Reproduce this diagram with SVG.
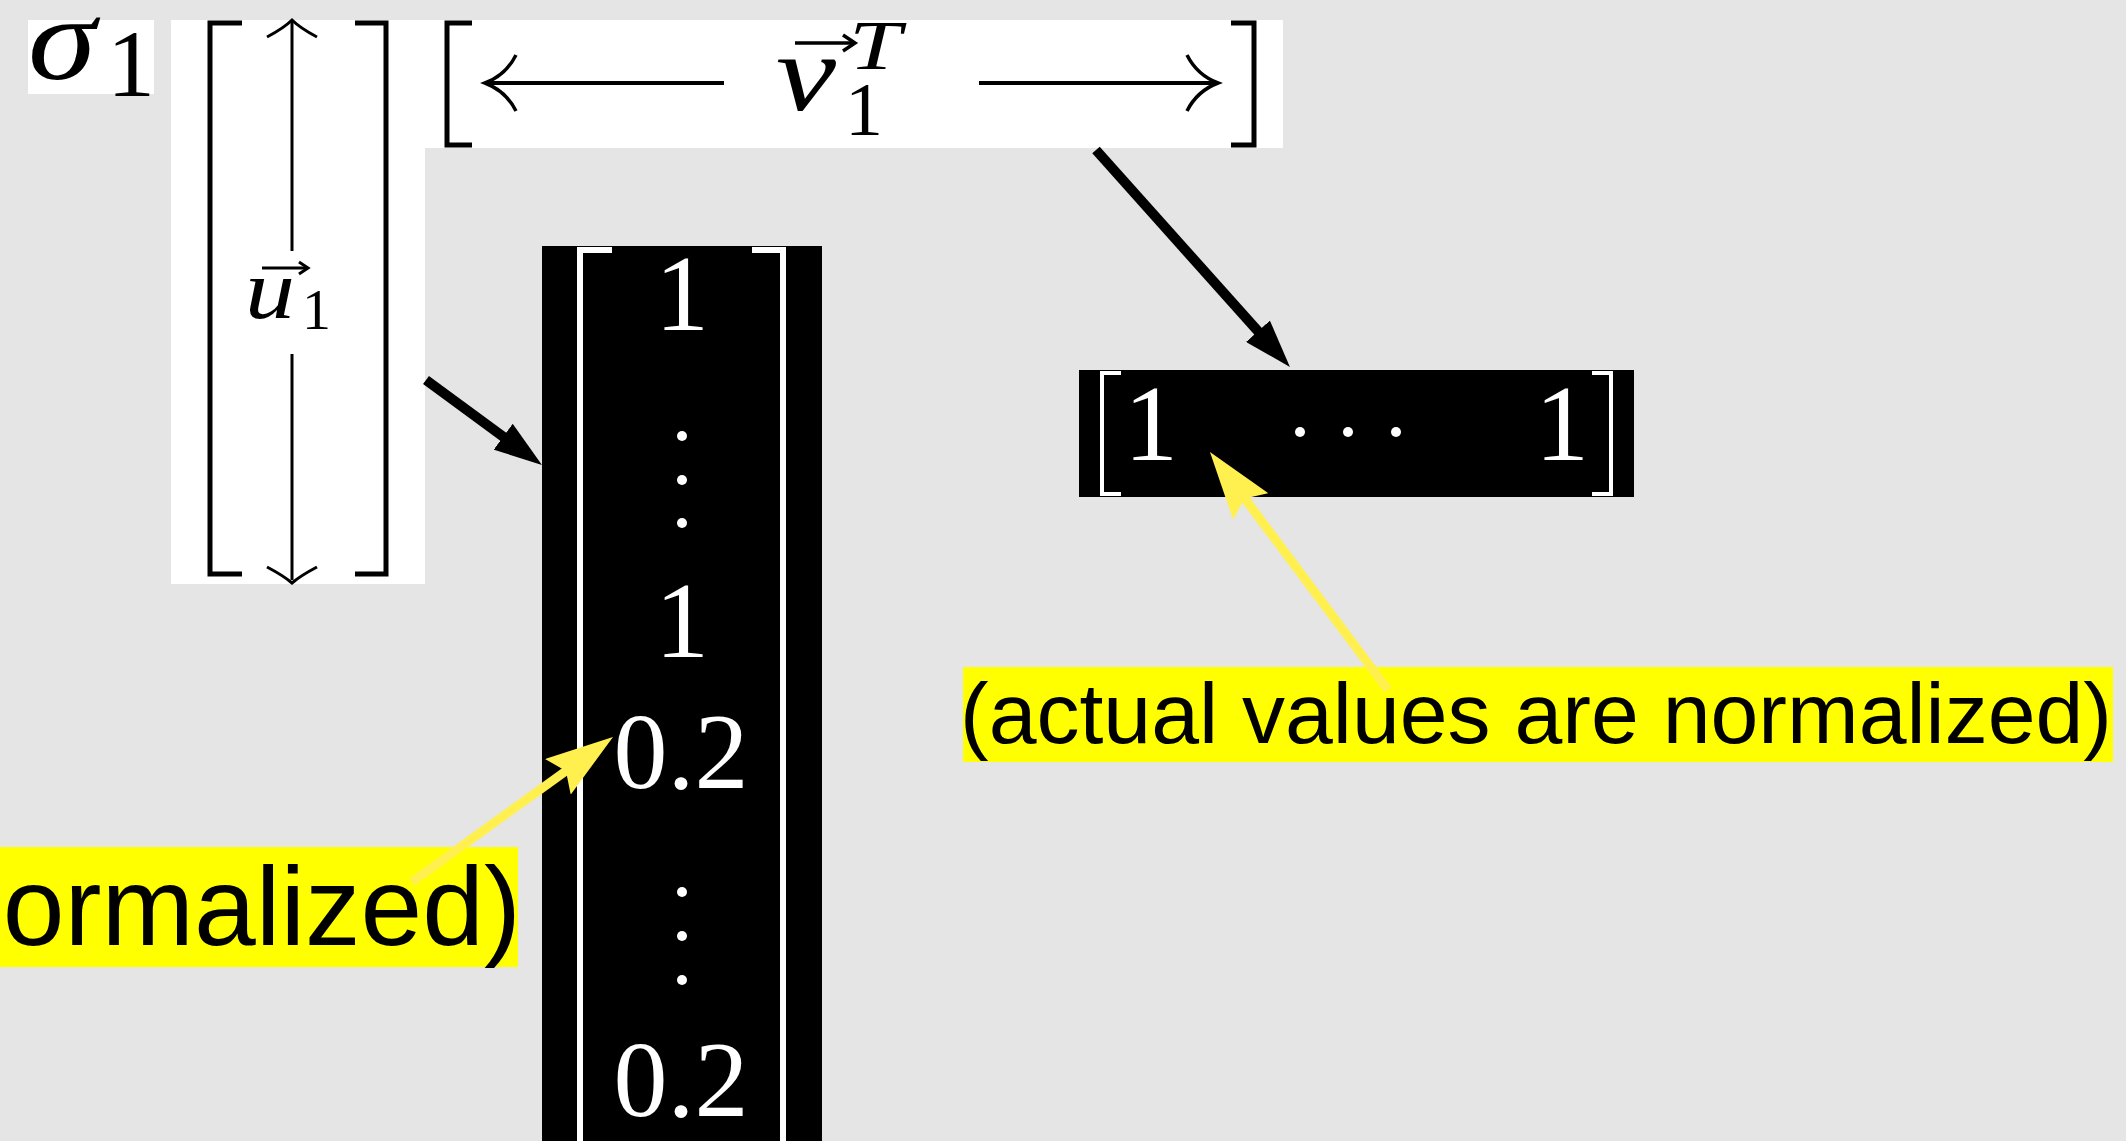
<svg xmlns="http://www.w3.org/2000/svg" width="2126" height="1141" viewBox="0 0 2126 1141">
<style>
.paper{fill:#ffffff}
.ink{stroke:#000000;fill:none}
.brk{stroke:#000000;stroke-width:5;fill:none;stroke-linecap:butt}
.wbrk{stroke:#ffffff;stroke-width:6;fill:none}
.wbrk2{stroke:#ffffff;stroke-width:4;fill:none}
.math{font-family:"Liberation Serif","Times New Roman",serif;fill:#000000}
.it{font-style:italic}
.wnum{font-family:"Liberation Serif","Times New Roman",serif;fill:#ffffff;font-size:108px;text-anchor:middle}
.dot{fill:#ffffff}
.lbl{fill:#ffff00}
.lbltxt{font-family:"Liberation Sans",Arial,sans-serif;fill:#000000}
.barrow{stroke:#000000;stroke-width:10;fill:none}
.yarrow{stroke:#fff050;stroke-width:9;fill:none}
</style>
<defs>
<marker id="bhead" markerUnits="userSpaceOnUse" viewBox="0 0 48 32" markerWidth="48" markerHeight="32" refX="8" refY="16" orient="auto">
<path d="M0,0 L48,16 L0,32 Z" fill="#000000"/>
</marker>
<marker id="yhead" markerUnits="userSpaceOnUse" viewBox="0 0 68 44" markerWidth="68" markerHeight="44" refX="14" refY="22" orient="auto">
<path d="M0,0 L68,22 L0,44 L10,22 Z" fill="#fff050"/>
</marker>
</defs>
<rect x="0" y="0" width="2126" height="1141" fill="#e5e5e5"/>

<g id="sigma1">
<rect class="paper" x="28" y="20" width="126" height="74"/>
<text class="math"><tspan class="it" x="28" y="79" font-size="118" textLength="68" lengthAdjust="spacingAndGlyphs">σ</tspan><tspan x="107" y="96" font-size="96">1</tspan></text>
</g>

<g id="u1">
<rect class="paper" x="171" y="20" width="254" height="564"/>
<path class="brk" d="M242,23 H210 V574 H242"/>
<path class="brk" d="M355,23 H386 V574 H355"/>
<line class="ink" stroke-width="3" x1="292" y1="22" x2="292" y2="251"/>
<path class="ink" stroke-width="3" d="M267,37 Q284,28 292,20 Q300,28 317,37"/>
<line class="ink" stroke-width="3" x1="292" y1="354" x2="292" y2="580"/>
<path class="ink" stroke-width="3" d="M267,567 Q284,576 292,583 Q300,576 317,567"/>
<line class="ink" stroke-width="3" x1="262" y1="268" x2="306" y2="268"/>
<path class="ink" stroke-width="3" d="M299,262 L308,268 L299,274"/>
<text class="math"><tspan class="it" x="245" y="318" font-size="84" textLength="50" lengthAdjust="spacingAndGlyphs">u</tspan><tspan x="302" y="329" font-size="58">1</tspan></text>
</g>

<g id="v1T">
<rect class="paper" x="424" y="20" width="859" height="128"/>
<path class="brk" d="M472,23 H447 V145 H472"/>
<path class="brk" d="M1231,23 H1254 V145 H1231"/>
<line class="ink" stroke-width="4" x1="488" y1="83" x2="724" y2="83"/>
<path class="ink" stroke-width="3.5" d="M516,55 Q506,75 485,83 Q506,91 516,111"/>
<line class="ink" stroke-width="4" x1="979" y1="83" x2="1215" y2="83"/>
<path class="ink" stroke-width="3.5" d="M1187,55 Q1197,75 1218,83 Q1197,91 1187,111"/>
<line class="ink" stroke-width="3.5" x1="795" y1="43" x2="852" y2="43"/>
<path class="ink" stroke-width="3.5" d="M843,35 L855,43 L843,51"/>
<text class="math"><tspan class="it" x="776" y="110" font-size="110" textLength="60" lengthAdjust="spacingAndGlyphs">v</tspan><tspan class="it" x="849" y="69" font-size="70" textLength="52" lengthAdjust="spacingAndGlyphs">T</tspan><tspan x="845" y="135" font-size="76">1</tspan></text>
</g>

<g id="u1-values">
<rect x="542" y="246" width="280" height="895" fill="#000000"/>
<path class="wbrk" d="M612,250 H580 V1141"/>
<path class="wbrk" d="M752,250 H783 V1141"/>
<text class="wnum" x="682" y="330">1</text>
<circle class="dot" cx="682" cy="436" r="5"/>
<circle class="dot" cx="682" cy="480" r="5"/>
<circle class="dot" cx="682" cy="523" r="5"/>
<text class="wnum" x="682" y="657">1</text>
<text class="wnum" x="681" y="788">0.2</text>
<circle class="dot" cx="682" cy="892" r="5"/>
<circle class="dot" cx="682" cy="936" r="5"/>
<circle class="dot" cx="682" cy="980" r="5"/>
<text class="wnum" x="681" y="1116">0.2</text>
</g>

<g id="v1T-values">
<rect x="1079" y="370" width="555" height="127" fill="#000000"/>
<path class="wbrk2" d="M1121,373 H1102 V494 H1121"/>
<path class="wbrk2" d="M1592,373 H1611 V494 H1592"/>
<text class="wnum" x="1151" y="460">1</text>
<circle class="dot" cx="1300" cy="432" r="5"/>
<circle class="dot" cx="1348" cy="432" r="5"/>
<circle class="dot" cx="1396" cy="432" r="5"/>
<text class="wnum" x="1562" y="460">1</text>
</g>

<g id="note-left">
<rect class="lbl" x="0" y="847" width="518" height="120"/>
<text class="lbltxt" x="521" y="945" font-size="111" text-anchor="end">normalized)</text>
</g>

<g id="note-right">
<rect class="lbl" x="963" y="667" width="1150" height="95"/>
<text class="lbltxt" x="960" y="743" font-size="86">(actual values are normalized)</text>
</g>

<g id="connectors">
<line class="barrow" x1="426" y1="380" x2="509.7" y2="441.4" marker-end="url(#bhead)"/>
<line class="barrow" x1="1096" y1="150" x2="1263.3" y2="337.2" marker-end="url(#bhead)"/>
<line class="yarrow" x1="412" y1="882" x2="569.2" y2="768.6" marker-end="url(#yhead)"/>
<line class="yarrow" x1="1388" y1="690" x2="1242.3" y2="495.2" marker-end="url(#yhead)"/>
</g>
</svg>
